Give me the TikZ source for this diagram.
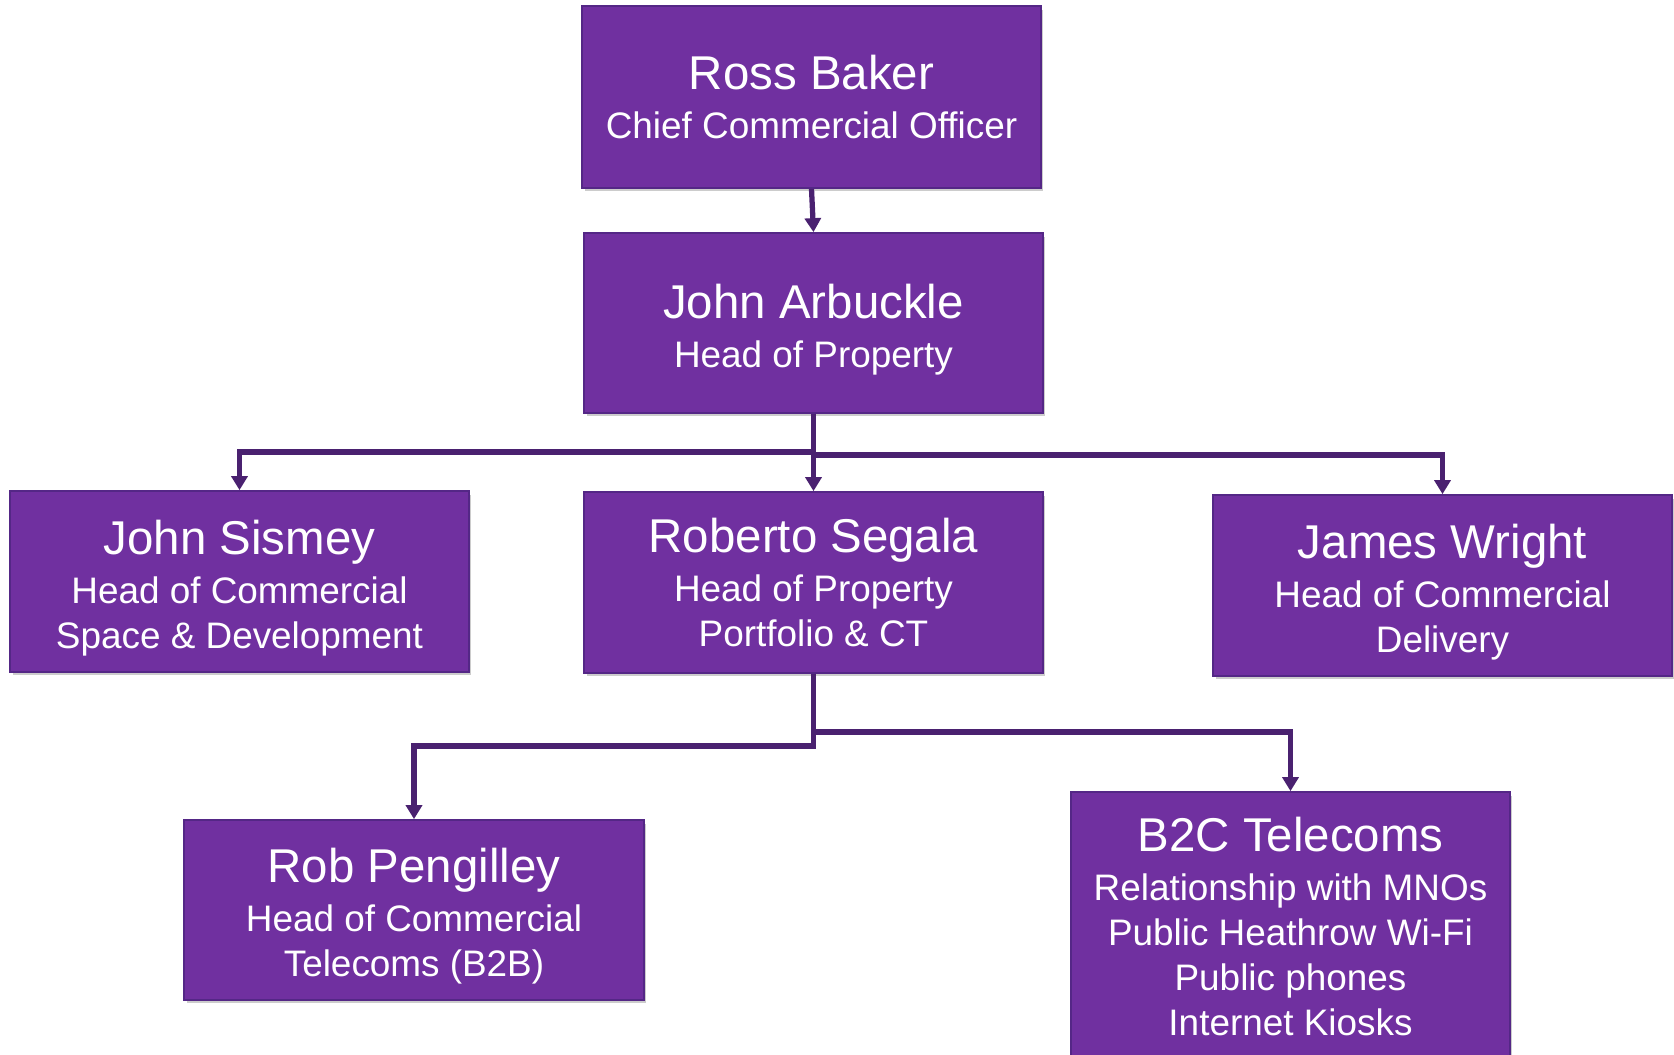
\documentclass[tikz,border=0pt]{standalone}
\usepackage{fontspec}
\setmainfont{Liberation Sans}
\usepackage{xcolor}
\usetikzlibrary{arrows.meta,shadows}

\definecolor{boxpurple}{HTML}{7030A0}
\definecolor{boxedge}{HTML}{542786}
\definecolor{linepurple}{HTML}{4A2170}

% name line of a box, with a little extra room above it
\newcommand{\staffname}[2][27pt]{{\fontsize{27}{30}\selectfont\rule{0pt}{#1}#2}\\[2.3pt]}

\begin{document}
\begin{tikzpicture}[
            x=0.02cm, y=-0.02cm,
            box/.style={rectangle, draw=boxedge, line width=1pt, fill=boxpurple, text=white, align=center,
                font=\fontsize{21}{25.6}\selectfont, minimum width=9.18cm, minimum height=3.62cm,
                drop shadow={shadow xshift=0.05cm, shadow yshift=-0.07cm, fill=black, opacity=0.2}},
            arrow/.style={draw=linepurple, line width=3pt, -{Triangle[length=0.28cm, width=0.32cm]}}
        ]
            \useasboundingbox (0,0) rectangle (1674,1055);

            % Top level
            \node[box, minimum height=3.64cm] (ross) at (811.5,97) {\staffname[20pt]{Ross Baker}Chief Commercial Officer};

            % Head of Property
            \node[box, minimum height=3.6cm] (arbuckle) at (813.5,323) {\staffname{John Arbuckle}Head of Property};

            % Second row
            \node[box] (sismey) at (239.5,581.5) {\staffname{John Sismey}Head of Commercial\\Space \& Development};
            \node[box] (segala) at (813.5,582.5) {\staffname[20pt]{Roberto Segala}Head of Property\\Portfolio \& CT};
            \node[box] (wright) at (1442.5,585.5) {\staffname{James Wright}Head of Commercial\\Delivery};

            % Third row
            \node[box, minimum width=9.2cm, minimum height=3.6cm] (pengilley) at (414,910) {\staffname{Rob Pengilley}Head of Commercial\\Telecoms (B2B)};
            \node[box, minimum width=8.78cm, minimum height=5.36cm] (btoc) at (1290.5,926) {\staffname[20pt]{B2C Telecoms}Relationship with MNOs\\Public Heathrow Wi-Fi\\Public phones\\Internet Kiosks};

            % Reporting lines
            \draw[arrow] (ross.south) -- (arbuckle.north);
            \draw[arrow] (arbuckle.south) -- ++(0,38) -| (sismey.north);
            \draw[arrow] (arbuckle.south) -- ++(0,41) -| (wright.north);
            \draw[arrow] (arbuckle.south) -- (segala.north);
            \draw[arrow] (segala.south) -- ++(0,72) -| (pengilley.north);
            \draw[arrow] (segala.south) -- ++(0,58) -| (btoc.north);
        \end{tikzpicture}
\end{document}
